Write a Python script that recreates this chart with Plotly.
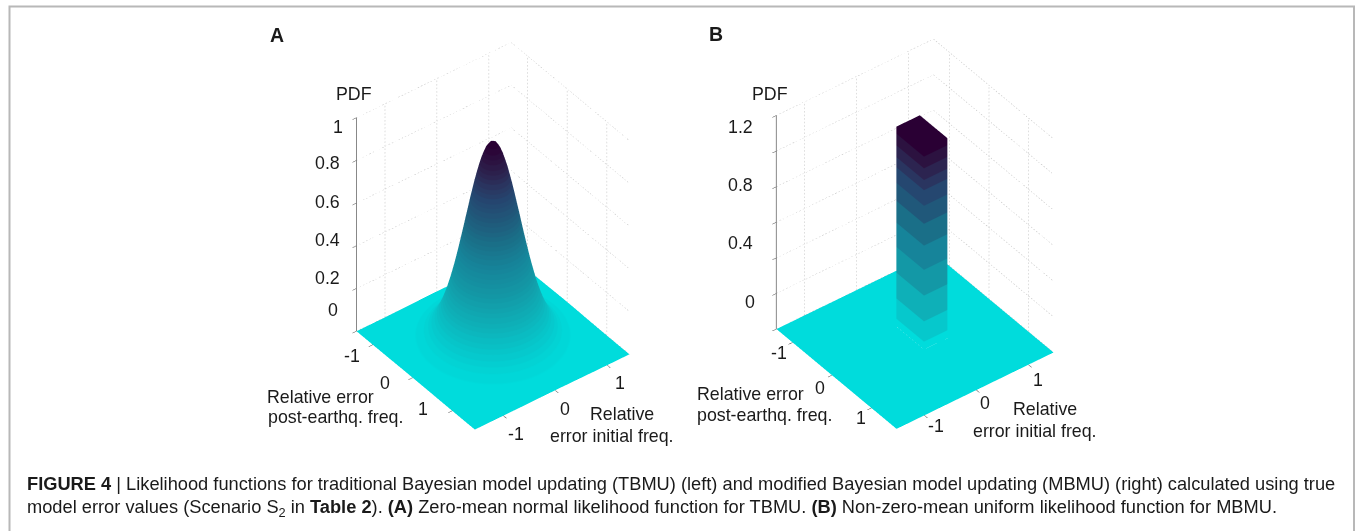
import plotly.graph_objects as go
from plotly.colors import sample_colorscale

W, H = 1357, 531
FONT = "Liberation Sans"

# ---------- data ----------
# Panel A: PDF profile against distance from the centre of the peak (read every 0.05)
profile_dist = [round(i * 0.05, 2) for i in range(33)]
profile_pdf = [1.000, .993, .972, .938, .893, .838, .775, .707, .635, .563, .492,
               .424, .360, .302, .249, .203, .163, .129, .101, .077, .059, .044,
               .032, .024, .017, .012, .008, .006, .004, .003, .002, .001, .001]
peak_a = 0.925
range_post_a = [-1.41, 1.57]
range_init_a = [-1.55, 1.43]
range_z_a = [0, 1]
ticks_xy = [-1, 0, 1]
ticks_z_a = [0, 0.2, 0.4, 0.6, 0.8, 1]

# Panel B: uniform block
range_post_b = [-1.41, 1.64]
range_init_b = [-1.535, 1.484]
range_z_b = [0, 1.2]
ticks_z_b = [0, 0.2, 0.4, 0.6, 0.8, 1.0, 1.2]
block_post = [-0.334, 0.366]
block_init = [-0.043, 0.407]
block_top = 1.123

# colour bands, from base to top, with their upper limits as a share of the height
band_limits = [.04, .14, .27, .40, .52, .63, .72, .80, .85, .91, .97, 1.0]
band_colors = ["#00dcdc", "#06c8cc", "#0eb0b8", "#1398a6", "#16849a", "#1a6f88",
               "#20587a", "#254770", "#2a3560", "#2c2450", "#2c1240", "#2a0034"]

# text
labels_a = [("PDF", 354, 94), ("1", 338, 127), ("0.8", 327, 163), ("0.6", 327, 202),
            ("0.4", 327, 240), ("0.2", 327, 278), ("0", 333, 310),
            ("-1", 352, 356), ("0", 385, 383), ("1", 423, 409),
            ("Relative error", 320, 397), ("post-earthq. freq.", 335, 417),
            ("1", 620, 383), ("0", 565, 409), ("-1", 516, 434),
            ("Relative", 622, 414), ("error initial freq.", 612, 436)]
labels_b = [("PDF", 770, 94), ("1.2", 740, 127), ("0.8", 740, 185), ("0.4", 740, 243),
            ("0", 750, 302), ("-1", 779, 353), ("0", 820, 388), ("1", 861, 418),
            ("Relative error", 750, 394), ("post-earthq. freq.", 764, 415),
            ("1", 1038, 380), ("0", 985, 403), ("-1", 936, 426),
            ("Relative", 1045, 409), ("error initial freq.", 1035, 431)]
caption_1 = ("<b>FIGURE 4</b> | Likelihood functions for traditional Bayesian model updating (TBMU) (left) "
             "and modified Bayesian model updating (MBMU) (right) calculated using true")
caption_2 = ("model error values (Scenario S<sub>2</sub> in <b>Table 2</b>). <b>(A)</b> Zero-mean normal "
             "likelihood function for TBMU. <b>(B)</b> Non-zero-mean uniform likelihood function for MBMU.")


def bands():
    out = []
    low = 0.0
    for lim, c in zip(band_limits, band_colors):
        out += [[low, c], [lim, c]]
        low = lim
    return out


def fine_bands(n):
    base = [[0.0, band_colors[0]]] + [[(a + b) / 2, c] for a, b, c in
                                      zip([0] + band_limits[:-1], band_limits, band_colors)][1:-1] + [[1.0, band_colors[-1]]]
    cols = sample_colorscale(base, [i / (n - 1) for i in range(n)])
    out = []
    for i, c in enumerate(cols):
        out += [[i / n, c], [(i + 1) / n, c]]
    return out


# ---------- surfaces ----------
axis_a = [-d for d in profile_dist[:0:-1]] + profile_dist
x_a = [range_post_a[0]] + [v for v in axis_a if range_post_a[0] < v < range_post_a[1]] + [range_post_a[1]]
y_a = [range_init_a[0]] + [v for v in axis_a if range_init_a[0] < v < range_init_a[1]] + [range_init_a[1]]


def lookup(v):
    d = min(abs(v), profile_dist[-1])
    return profile_pdf[min(range(len(profile_dist)), key=lambda i: abs(profile_dist[i] - d))]


z_a = [[peak_a * lookup(xv) * lookup(yv) for xv in x_a] for yv in y_a]

x_b = [range_post_b[0], block_post[0], block_post[0], block_post[1], block_post[1], range_post_b[1]]
y_b = [range_init_b[0], block_init[0], block_init[0], block_init[1], block_init[1], range_init_b[1]]
z_b = [[0] * 6 for _ in range(6)]
for r in (2, 3):
    for c in (2, 3):
        z_b[r][c] = block_top

LIGHT = dict(ambient=1, diffuse=0, specular=0, roughness=1, fresnel=0)


def dotted(xs, ys, zs, p, q, n):
    """Append a line from p to q broken into n short dashes, which reads as a dotted rule."""
    for i in range(n):
        for t in (i / n, (i + 0.45) / n):
            xs.append(p[0] + (q[0] - p[0]) * t)
            ys.append(p[1] + (q[1] - p[1]) * t)
            zs.append(p[2] + (q[2] - p[2]) * t)
        xs.append(None)
        ys.append(None)
        zs.append(None)


def wall_trace(scene, rx, ry, rz, zticks):
    """Dotted grid on the two back walls, from the axis ranges and ticks."""
    xs, ys, zs = [], [], []
    xmin, xmax = rx
    ymin, ymax = ry
    for t in zticks:
        dotted(xs, ys, zs, (xmin, ymin, t), (xmin, ymax, t), 48)
        dotted(xs, ys, zs, (xmin, ymax, t), (xmax, ymax, t), 48)
    for t in ticks_xy:
        dotted(xs, ys, zs, (xmin, t, rz[0]), (xmin, t, rz[1]), 60)
        dotted(xs, ys, zs, (t, ymax, rz[0]), (t, ymax, rz[1]), 60)
    return go.Scatter3d(x=xs, y=ys, z=zs, mode="lines", scene=scene, showlegend=False, hoverinfo="skip",
                        line=dict(color="#bdbdbd", width=1))


fig = go.Figure()
fig.add_trace(wall_trace("scene", range_post_a, range_init_a, range_z_a, ticks_z_a))
fig.add_trace(go.Surface(x=x_a, y=y_a, z=z_a, scene="scene", colorscale=fine_bands(48),
                         cmin=0, cmax=peak_a, showscale=False, lighting=LIGHT, hoverinfo="skip"))
fig.add_trace(wall_trace("scene2", range_post_b, range_init_b, range_z_b, ticks_z_b))
fig.add_trace(go.Surface(x=x_b, y=y_b, z=z_b, scene="scene2", colorscale=bands(),
                         cmin=0, cmax=block_top, showscale=False, lighting=LIGHT, hoverinfo="skip"))


def axis(rng, vals, line=False):
    return dict(range=rng, tickvals=vals, ticktext=[""] * len(vals), showgrid=False, zeroline=False,
                showbackground=False, showspikes=False, showline=line, linecolor="#777777", linewidth=2,
                ticks="outside", ticklen=5, tickcolor="#444444", tickwidth=1, title=dict(text=""))


D = 1.6
camera = dict(eye=dict(x=0.613 * D, y=-0.469 * D, z=0.636 * D), center=dict(x=0, y=0, z=0),
              up=dict(x=0, y=0, z=1), projection=dict(type="orthographic"))


def scene(dom_x, dom_y, rx, ry, rz, zt, k=1.0):
    return dict(domain=dict(x=[dom_x[0] / W, dom_x[1] / W], y=[1 - dom_y[1] / H, 1 - dom_y[0] / H]),
                xaxis=axis(rx, ticks_xy), yaxis=axis(ry, ticks_xy), zaxis=axis(rz, zt, True),
                aspectmode="manual", aspectratio=dict(x=k, y=k, z=1.23), camera=camera,
                bgcolor="rgba(0,0,0,0)")


def note(text, px, py, size=17.8, **kw):
    return dict(text=text, x=px / W, y=1 - py / H, xref="paper", yref="paper", showarrow=False,
                xanchor=kw.get("xanchor", "center"), yanchor="middle",
                font=dict(family=FONT, size=size, color="#1a1a1a"))


notes = [note(*l) for l in labels_a + labels_b]
notes.append(note("<b>A</b>", 277, 35, 19.5))
notes.append(note("<b>B</b>", 716, 34, 19.5))
notes.append(note(caption_1, 25, 483.5, 18.25, xanchor="left"))
notes.append(note(caption_2, 25, 508, 18.25, xanchor="left"))

frame = dict(type="path", xref="paper", yref="paper",
             path=f"M {9.5/W} 0 L {9.5/W} {1-6.5/H} L {1354/W} {1-6.5/H} L {1354/W} 0",
             line=dict(color="#b8b8b8", width=2))

fig.update_layout(width=W, height=H, margin=dict(l=0, r=0, t=0, b=0), paper_bgcolor="white",
                  scene=scene((293, 693), (11, 461), range_post_a, range_init_a, range_z_a, ticks_z_a, 0.866),
                  scene2=scene((715, 1115), (8.5, 458.5), range_post_b, range_init_b, range_z_b, ticks_z_b, 0.879),
                  annotations=notes, shapes=[frame])

fig.write_html("out.html", config={"displayModeBar": False},
               post_script="document.body.style.margin='0';")
